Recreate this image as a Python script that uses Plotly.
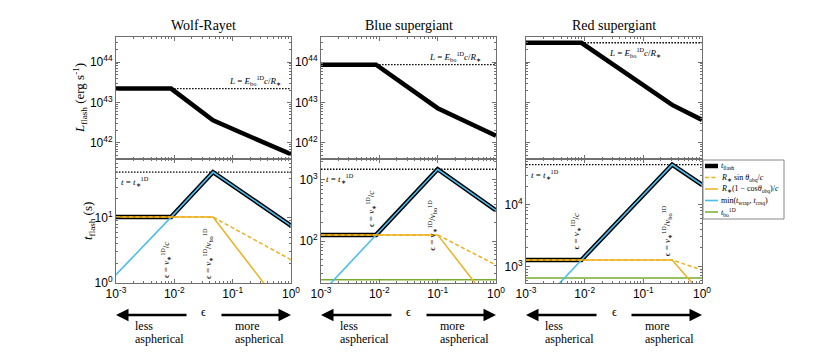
import numpy as np
import plotly.graph_objects as go

W, H = 830, 363

stars = ["Wolf-Rayet", "Blue supergiant", "Red supergiant"]

# epsilon: start, v*/c break, v*/v_bo break, end
wr_eps = [1e-3, 0.0088, 0.046, 1.0]
bsg_eps = [1e-3, 0.0088, 0.10, 1.0]
rsg_eps = [1e-3, 0.0088, 0.31, 1.0]

# flash luminosity (erg/s)
wr_L = [2.2e43, 2.2e43, 3.6e42, 5.2e41]
bsg_L = [8.6e43, 8.6e43, 7.2e42, 1.5e42]
rsg_L = [3.0e44, 3.0e44, 8.7e42, 3.7e42]
L_1d = [2.2e43, 8.6e43, 3.0e44]

# flash duration (s)
wr_tflash = [10.3, 10.3, 51, 7.6]
bsg_tflash = [127, 127, 1490, 318]
rsg_tflash = [1270, 1270, 44500, 21000]

# min(t_wrap, t_crsq)
wr_tmin = [1.33, 10.3, 51, 7.6]
bsg_tmin = [14, 127, 1490, 318]
rsg_tmin = [141, 1270, 44500, 21000]

# R* sin(theta)/c
wr_tsin = [10.3, 10.3, 10.3, 2.26]
bsg_tsin = [127, 127, 127, 41]
rsg_tsin = [1270, 1270, 1270, 870]

# R* (1 - cos(theta))/c
wr_tcos = [10.3, 10.3, 10.3, 0.28]
bsg_tcos = [127, 127, 127, 7.6]
rsg_tcos = [1270, 1270, 1270, 350]

t_bo = [None, 23.5, 650]
t_s = [51, 1490, 44500]

x_ticks = [1e-3, 1e-2, 1e-1, 1.0]
x_ticktext = ["10<sup>-3</sup>", "10<sup>-2</sup>", "10<sup>-1</sup>", "10<sup>0</sup>"]
L_ticks = [1e42, 1e43, 1e44]
L_ticktext = ["10<sup>42</sup>", "10<sup>43</sup>", "10<sup>44</sup>"]
t_ticks = [[1.0, 10.0], [100.0, 1000.0], [1000.0, 10000.0]]
t_ticktext = [["10<sup>0</sup>", "10<sup>1</sup>"],
              ["10<sup>2</sup>", "10<sup>3</sup>"],
              ["10<sup>3</sup>", "10<sup>4</sup>"]]

legend_labels = [
    "<i>t</i><sub>flash</sub>",
    "<i>R</i><sub>∗</sub> sin <i>θ</i><sub>obq</sub>/<i>c</i>",
    "<i>R</i><sub>∗</sub>(1 − cos<i>θ</i><sub>obq</sub>)/<i>c</i>",
    "min(<i>t</i><sub>wrap</sub>, <i>t</i><sub>crsq</sub>)",
    "<i>t</i><sub>bo</sub><sup>1D</sup>",
]

eps_all = [wr_eps, bsg_eps, rsg_eps]
L_all = [wr_L, bsg_L, rsg_L]
tflash_all = [wr_tflash, bsg_tflash, rsg_tflash]
tmin_all = [wr_tmin, bsg_tmin, rsg_tmin]
tsin_all = [wr_tsin, bsg_tsin, rsg_tsin]
tcos_all = [wr_tcos, bsg_tcos, rsg_tcos]

BLACK = "black"
ORANGE = "#EDB120"
BLUE = "#4DBEEE"
GREEN = "#77AC30"
AXC = "#707070"
SERIF = "Liberation Serif, Times New Roman, serif"
SANS = "Liberation Sans, Arial, sans-serif"

# layout in pixels
cols = [(108, 283), (313, 488), (518, 694)]
top_row = (29, 151)
bot_row = (151, 275)


def fx(x):
    return x / W


def fy(y):
    return 1 - y / H


def text(s, x, y, size, **kw):
    d = dict(text=s, xref="paper", yref="paper", x=fx(x), y=fy(y), showarrow=False,
             xanchor="center", yanchor="middle",
             font=dict(family=SERIF, size=size, color="black"))
    d.update(kw)
    return d


fig = go.Figure()
shapes = []
annos = []

minor_x = [m * 10.0 ** e for e in range(-3, 0) for m in range(2, 10)]


def axis_name(n, kind):
    return kind + ("" if n == 1 else str(n))


for i in range(3):
    eps = eps_all[i]
    nt = i + 1
    nb = i + 4
    xt, yt = "x%d" % nt, "y%d" % nt
    xb, yb = "x%d" % nb, "y%d" % nb

    # top: luminosity
    fig.add_trace(go.Scatter(x=[eps[1], eps[-1]], y=[L_1d[i], L_1d[i]], mode="lines",
                             line=dict(color=BLACK, width=1.3, dash="1.5px,1.5px"),
                             xaxis=xt, yaxis=yt, showlegend=False))
    fig.add_trace(go.Scatter(x=eps, y=L_all[i], mode="lines",
                             line=dict(color=BLACK, width=4.5),
                             xaxis=xt, yaxis=yt, showlegend=False))

    # bottom: durations
    fig.add_trace(go.Scatter(x=[eps[0], eps[-1]], y=[t_s[i], t_s[i]], mode="lines",
                             line=dict(color=BLACK, width=1.3, dash="1.5px,1.5px"),
                             xaxis=xb, yaxis=yb, showlegend=False))
    fig.add_trace(go.Scatter(x=eps, y=tflash_all[i], mode="lines",
                             line=dict(color=BLACK, width=4.5),
                             xaxis=xb, yaxis=yb, showlegend=False))
    if t_bo[i] is not None:
        fig.add_trace(go.Scatter(x=[eps[0], eps[-1]], y=[t_bo[i], t_bo[i]], mode="lines",
                                 line=dict(color=GREEN, width=1.5),
                                 xaxis=xb, yaxis=yb, showlegend=False))
    fig.add_trace(go.Scatter(x=eps, y=tmin_all[i], mode="lines",
                             line=dict(color=BLUE, width=1.6),
                             xaxis=xb, yaxis=yb, showlegend=False))
    fig.add_trace(go.Scatter(x=eps, y=tcos_all[i], mode="lines",
                             line=dict(color=ORANGE, width=1.5),
                             xaxis=xb, yaxis=yb, showlegend=False))
    fig.add_trace(go.Scatter(x=eps, y=tsin_all[i], mode="lines",
                             line=dict(color=ORANGE, width=1.5, dash="4px,2.5px"),
                             xaxis=xb, yaxis=yb, showlegend=False))

    x0, x1 = cols[i]
    xdom = [fx(x0), fx(x1)]
    common = dict(type="log", showline=True, linecolor=AXC, linewidth=1, mirror="ticks",
                  ticks="inside", ticklen=4, tickcolor=AXC, showgrid=False, zeroline=False,
                  automargin=False,
                  tickfont=dict(family=SANS, size=12, color="black"))
    xminor = dict(ticks="inside", ticklen=2, tickcolor=AXC, tickvals=minor_x, showgrid=False)
    fig.update_layout(**{
        axis_name(nt, "xaxis"): dict(common, domain=xdom, anchor=yt, range=[-3, 0],
                                     tickvals=x_ticks, ticktext=x_ticktext,
                                     showticklabels=False, minor=xminor),
        axis_name(nt, "yaxis"): dict(common, domain=[fy(top_row[1]), fy(top_row[0])], anchor=xt,
                                     range=[41.6, 44.62], tickvals=L_ticks, ticktext=L_ticktext,
                                     showticklabels=(i < 2),
                                     minor=dict(ticks="inside", ticklen=2, tickcolor=AXC,
                                                tickvals=[m * 10.0 ** e for e in range(41, 45)
                                                          for m in range(2, 10)])),
        axis_name(nb, "xaxis"): dict(common, domain=xdom, anchor=yb, range=[-3, 0],
                                     tickvals=x_ticks, ticktext=x_ticktext, minor=xminor),
        axis_name(nb, "yaxis"): dict(common, domain=[fy(bot_row[1]), fy(bot_row[0])], anchor=xb,
                                     range=[[-0.005, 1.91], [1.32, 3.34], [2.73, 4.74]][i],
                                     tickvals=t_ticks[i], ticktext=t_ticktext[i],
                                     minor=dict(ticks="inside", ticklen=2, tickcolor=AXC,
                                                tickvals=[m * 10.0 ** e for e in range(0, 5)
                                                          for m in range(2, 10)])),
    })

    # vertical dashed break lines across both panels
    for k in (1, 2):
        shapes.append(dict(type="line", xref=xb, yref="paper",
                           x0=np.log10(eps[k]), x1=np.log10(eps[k]),
                           y0=fy(bot_row[1]), y1=fy(top_row[0]),
                           line=dict(color=BLACK, width=1.5, dash="6px,4px")))

    # titles
    annos.append(text(stars[i], (x0 + x1) / 2, 17, 14))

    # L = E c / R label
    lab_shift = [-8, -13, -39][i]
    above = i < 2
    annos.append(dict(text="<i>L</i> = <i>E</i><sub>bo</sub><sup>1D</sup><i>c</i>/<i>R</i><sub>∗</sub>",
                      xref=xt, yref=yt, x=np.log10(eps[-1]), y=np.log10(L_1d[i]),
                      xanchor="right", yanchor="bottom" if above else "top",
                      xshift=lab_shift, yshift=0 if above else -1, showarrow=False,
                      font=dict(family=SERIF, size=9, color="black")))

    # t = t_s label
    annos.append(dict(text="<i>t</i> = <i>t</i><sub>∗</sub><sup>1D</sup>",
                      xref=xb, yref=yb, x=np.log10(eps[0]), y=np.log10(t_s[i]),
                      xanchor="left", yanchor="top", xshift=3, yshift=-1, showarrow=False,
                      font=dict(family=SERIF, size=9, color="black")))

    # rotated labels along the break lines
    annos.append(dict(text="ϵ = <i>v</i><sub>∗</sub><sup>1D</sup>/<i>c</i>",
                      xref=xb, yref="paper", x=np.log10(eps[1]), y=fy([252, 201, 223][i]),
                      xanchor="center", yanchor="middle",
                      xshift=-6, textangle=-90, showarrow=False,
                      font=dict(family=SERIF, size=9, color="black")))
    annos.append(dict(text="ϵ = <i>v</i><sub>∗</sub><sup>1D</sup>/<i>v</i><sub>bo</sub><sup>1D</sup>",
                      xref=xb, yref="paper", x=np.log10(eps[2]), y=fy([245, 217, 223][i]),
                      xanchor="center", yanchor="middle",
                      xshift=-6, textangle=-90, showarrow=False,
                      font=dict(family=SERIF, size=9, color="black")))

    # epsilon axis label + arrows
    annos.append(text("ϵ", (x0 + x1) / 2, 304, 12))
    annos.append(dict(text="", xref="paper", yref="paper", x=fx(x0), y=fy(307),
                      ax=72, ay=0, showarrow=True, arrowhead=2, arrowsize=1,
                      arrowwidth=2.5, arrowcolor=BLACK, standoff=0))
    annos.append(dict(text="", xref="paper", yref="paper", x=fx(x1), y=fy(307),
                      ax=-(x1 - x0 - 104), ay=0, showarrow=True, arrowhead=2, arrowsize=1,
                      arrowwidth=2.5, arrowcolor=BLACK, standoff=0))
    annos.append(text("less", x0 + 17, 318, 12, xanchor="left"))
    annos.append(text("aspherical", x0 + 17, 331, 12, xanchor="left"))
    annos.append(text("more", x0 + 117, 318, 12, xanchor="left"))
    annos.append(text("aspherical", x0 + 117, 331, 12, xanchor="left"))

# y axis titles
annos.append(text("<i>L</i><sub>flash</sub> (erg s<sup>-1</sup>)", 72, 90, 13, textangle=-90))
annos.append(text("<i>t</i><sub>flash</sub> (s)", 80, 213, 13, textangle=-90))

# legend box (drawn by hand to keep it compact)
leg_colors = [BLACK, ORANGE, ORANGE, BLUE, GREEN]
leg_widths = [4.5, 1.5, 1.5, 1.6, 1.5]
leg_dash = ["solid", "4px,2.5px", "solid", "solid", "solid"]
shapes.append(dict(type="rect", xref="paper", yref="paper", x0=fx(695), x1=fx(776),
                   y0=fy(211), y1=fy(152), line=dict(color="#888888", width=1),
                   fillcolor="white", layer="above"))
for j, lab in enumerate(legend_labels):
    yy = 158 + 11.5 * j
    shapes.append(dict(type="line", xref="paper", yref="paper", x0=fx(697), x1=fx(710),
                       y0=fy(yy), y1=fy(yy),
                       line=dict(color=leg_colors[j], width=leg_widths[j], dash=leg_dash[j])))
    annos.append(text(lab, 711, yy, 8, xanchor="left"))

fig.update_layout(template="none", width=W, height=H, margin=dict(l=0, r=0, t=0, b=0),
                  paper_bgcolor="white", plot_bgcolor="white",
                  shapes=shapes, annotations=annos, showlegend=False)

fig.write_html("out.html")
